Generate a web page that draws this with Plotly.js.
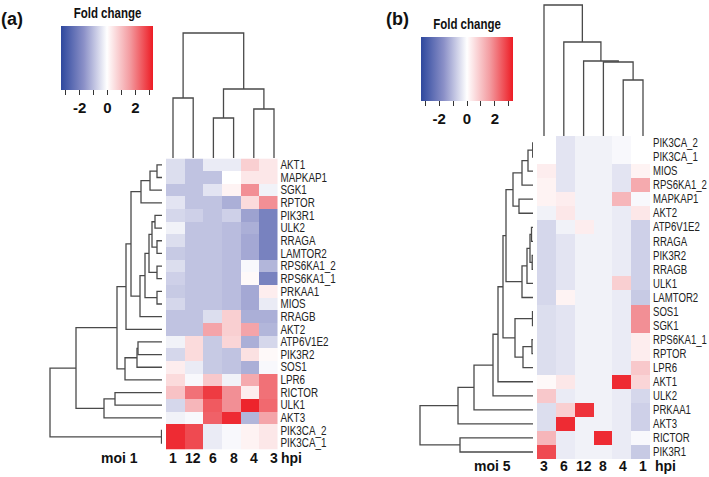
<!DOCTYPE html>
<html><head><meta charset="utf-8">
<script src="https://cdn.plot.ly/plotly-3.0.1.min.js"></script>
<style>html,body{margin:0;padding:0;background:#fff}</style>
</head><body><div id="chart" style="width:709px;height:477px"></div>
<script>
// ---------- Panel (a): moi 1 ----------
const rowsA = ['AKT1','MAPKAP1','SGK1','RPTOR','PIK3R1','ULK2','RRAGA','LAMTOR2','RPS6KA1_2','RPS6KA1_1','PRKAA1','MIOS','RRAGB','AKT2','ATP6V1E2','PIK3R2','SOS1','LPR6','RICTOR','ULK1','AKT3','PIK3CA_2','PIK3CA_1'];
const colsA = ['1','12','6','8','4','3'];
const foldA = [
 [-0.5,-0.9,-0.3,-0.3, 0.8, 0.4], // AKT1
 [-0.5,-0.9,-0.9, 0.0, 0.4, 0.4], // MAPKAP1
 [-0.9,-0.9,-0.4, 0.2, 1.8,-0.2], // SGK1
 [-0.4,-0.9,-0.9,-1.2, 0.6, 1.8], // RPTOR
 [-0.6,-0.7,-0.9,-0.7,-1.4,-2.0], // PIK3R1
 [-0.2,-0.9,-0.9,-1.0,-1.2,-2.0], // ULK2
 [-0.5,-0.9,-0.9,-1.0,-1.3,-2.0], // RRAGA
 [-0.8,-0.9,-0.9,-1.0,-1.3,-2.0], // LAMTOR2
 [-0.5,-0.9,-0.9,-1.0,-0.1,-1.1], // RPS6KA1_2
 [-0.7,-0.9,-0.9,-1.0, 0.1,-2.0], // RPS6KA1_1
 [-0.8,-0.9,-0.9,-1.0,-1.3, 0.3], // PRKAA1
 [-0.6,-0.9,-0.9,-1.0,-1.3,-0.3], // MIOS
 [-0.9,-0.9,-0.5, 0.8,-1.2,-1.2], // RRAGB
 [-0.9,-0.9, 1.5, 0.8, 1.5,-1.1], // AKT2
 [-0.2, 0.6,-0.8, 0.7,-1.2,-0.6], // ATP6V1E2
 [-0.6, 0.6,-0.8,-0.9, 0.5, 0.1], // PIK3R2
 [ 0.3,-0.3,-0.8,-0.9,-1.2,-0.1], // SOS1
 [ 0.6,-0.1, 0.9,-0.2, 1.4, 2.2], // LPR6
 [ 1.0, 2.2, 2.9, 1.8, 0.3, 2.2], // RICTOR
 [-0.6, 1.2, 2.5, 1.8, 3.2, 2.3], // ULK1
 [-0.2,-0.1, 2.4, 3.1,-1.1, 1.5], // AKT3
 [ 3.1, 2.7,-0.3,-0.1, 0.2, 0.4], // PIK3CA_2
 [ 3.1, 2.7,-0.3,-0.1, 0.2, 0.4]  // PIK3CA_1
];
// linkage: [childA, childB, height]; merges referenced as n<index>
const rowLinkA = [
 ['AKT1','MAPKAP1',5],['n0','SGK1',12],['n1','RPTOR',21],
 ['PIK3R1','ULK2',7],['RRAGA','LAMTOR2',5],['n3','n4',10],
 ['RPS6KA1_2','RPS6KA1_1',5],['n5','n6',13],['PRKAA1','MIOS',5],
 ['n7','n8',17],['n9','RRAGB',22],['n2','n10',31],['n11','AKT2',36],
 ['ATP6V1E2','PIK3R2',24],['n13','SOS1',25],['n14','LPR6',37],
 ['n12','n15',45],['RICTOR','ULK1',47],['n17','AKT3',58],
 ['n16','n18',86],['PIK3CA_2','PIK3CA_1',0.5],['n19','n20',112]
];
const colLinkA = [['1','12',60],['6','8',40],['4','3',49],['n1','n2',69],['n0','n3',125]];

// ---------- Panel (b): moi 5 ----------
const rowsB = ['PIK3CA_2','PIK3CA_1','MIOS','RPS6KA1_2','MAPKAP1','AKT2','ATP6V1E2','RRAGA','PIK3R2','RRAGB','ULK1','LAMTOR2','SOS1','SGK1','RPS6KA1_1','RPTOR','LPR6','AKT1','ULK2','PRKAA1','AKT3','RICTOR','PIK3R1'];
const colsB = ['3','6','12','8','4','1'];
const foldB = [
 [ 0.0,-0.4,-0.2,-0.2,-0.1, 0.0], // PIK3CA_2
 [ 0.0,-0.4,-0.2,-0.2,-0.1, 0.0], // PIK3CA_1
 [ 0.3,-0.4,-0.2,-0.2,-0.4, 0.2], // MIOS
 [ 0.2,-0.4,-0.2,-0.2,-0.4, 1.4], // RPS6KA1_2
 [ 0.2, 0.3,-0.2,-0.2, 1.2,-0.1], // MAPKAP1
 [-0.2, 0.4,-0.2,-0.2,-0.3, 0.4], // AKT2
 [-0.6,-0.2, 0.3,-0.2,-0.3,-0.7], // ATP6V1E2
 [-0.6,-0.4,-0.2,-0.2,-0.3,-0.7], // RRAGA
 [-0.6,-0.4,-0.2,-0.2,-0.3,-0.7], // PIK3R2
 [-0.6,-0.4,-0.2,-0.2,-0.3,-0.7], // RRAGB
 [-0.6,-0.4,-0.2,-0.2, 0.8,-0.7], // ULK1
 [-0.6, 0.2,-0.2,-0.2,-0.3,-0.8], // LAMTOR2
 [-0.5,-0.4,-0.2,-0.2,-0.3, 1.8], // SOS1
 [-0.5,-0.4,-0.2,-0.2,-0.3, 1.8], // SGK1
 [-0.5,-0.4,-0.2,-0.2,-0.3, 0.3], // RPS6KA1_1
 [-0.5,-0.4,-0.2,-0.2,-0.3, 0.3], // RPTOR
 [-0.5,-0.4,-0.2,-0.2,-0.3, 0.9], // LPR6
 [ 0.1, 0.4,-0.2,-0.2, 3.1, 0.7], // AKT1
 [ 0.9,-0.3,-0.2,-0.2,-0.3,-0.6], // ULK2
 [-0.5, 0.8, 3.0,-0.2,-0.3,-0.7], // PRKAA1
 [-0.5, 3.1,-0.2,-0.2,-0.3,-0.7], // AKT3
 [ 1.2,-0.3,-0.2, 3.1,-0.3,-0.1], // RICTOR
 [ 2.7,-0.3,-0.2,-0.2,-0.3,-0.8]  // PIK3R1
];
const rowLinkB = [
 ['PIK3CA_2','PIK3CA_1',0.3],['n0','MIOS',5],['n1','RPS6KA1_2',11],
 ['MAPKAP1','AKT2',14],['n2','n3',20],['ATP6V1E2','RRAGA',1.5],
 ['PIK3R2','RRAGB',0.8],['n5','n6',3],['n7','ULK1',6],['n8','LAMTOR2',11],
 ['n4','n9',27],['SOS1','SGK1',0.5],['RPS6KA1_1','RPTOR',1],['n12','LPR6',10],
 ['n11','n13',18],['n10','n14',30],['n15','AKT1',35],['n16','ULK2',40],
 ['n17','PRKAA1',59],['n18','AKT3',75],['RICTOR','PIK3R1',73],['n19','n20',113]
];
const colLinkB = [['4','1',56],['8','n0',74],['12','n1',75],['6','n2',94],['3','n3',131]];

const colorScale = [[0,'rgb(46,72,158)'],[0.25,'rgb(140,145,200)'],[0.5,'rgb(255,255,255)'],[0.75,'rgb(243,155,160)'],[1,'rgb(237,28,36)']];
const zLo = -3.3, zHi = 3.3;

// ---------- helpers ----------
const W = 709, H = 477;
const px = v => v / W, py = v => 1 - v / H;
function dendro(leaves, links){
  const pos = {}, ht = {}, P = [], Hs = [];
  leaves.forEach((l,i) => { pos[l] = i; ht[l] = 0; });
  links.forEach((lk,i) => {
    const [a,b,h] = lk, id = 'n' + i;
    pos[id] = (pos[a] + pos[b]) / 2; ht[id] = h;
    P.push(pos[a], pos[a], pos[b], pos[b], null);
    Hs.push(ht[a], h, h, ht[b], null);
  });
  return {p: P, h: Hs};
}
const idx = arr => arr.map((_, i) => i);
const lineStyle = {color: '#4a4a4a', width: 1.3};
const SANS = '"Liberation Sans", Arial, sans-serif';

function colorbarCfg(cx, boxBottom){
  return {
    orientation: 'h', x: px(cx), xanchor: 'center', y: py(boxBottom), yanchor: 'bottom',
    len: 92, lenmode: 'pixels', thickness: 64, thicknessmode: 'pixels',
    xpad: 0, ypad: 0, outlinewidth: 0,
    tickmode: 'array', tickvals: [-3,-2,-1,0,1,2,3], ticktext: ['','-2','','0','','2',''],
    ticks: 'outside', ticklen: 5, tickwidth: 1, tickcolor: '#333',
    tickfont: {family: SANS, size: 15, color: '#111', weight: 'bold'},
    title: {text: 'Fold change', side: 'top', font: {family: SANS, size: 14, color: '#111', weight: 'bold'}}
  };
}

const dRA = dendro(rowsA, rowLinkA), dCA = dendro(colsA, colLinkA);
const dRB = dendro(rowsB, rowLinkB), dCB = dendro(colsB, colLinkB);

const traces = [
  {type:'heatmap', x: idx(colsA), y: idx(rowsA), z: foldA, xaxis:'x', yaxis:'y',
   colorscale: colorScale, zmin: zLo, zmax: zHi, colorbar: colorbarCfg(107.5, 116), hoverinfo:'skip'},
  {type:'scatter', mode:'lines', x: dCA.p, y: dCA.h, xaxis:'x2', yaxis:'y2', line: lineStyle, hoverinfo:'skip', showlegend:false},
  {type:'scatter', mode:'lines', x: dRA.h, y: dRA.p, xaxis:'x3', yaxis:'y3', line: lineStyle, hoverinfo:'skip', showlegend:false},
  {type:'heatmap', x: idx(colsB), y: idx(rowsB), z: foldB, xaxis:'x4', yaxis:'y4',
   colorscale: colorScale, zmin: zLo, zmax: zHi, colorbar: colorbarCfg(467, 127), hoverinfo:'skip'},
  {type:'scatter', mode:'lines', x: dCB.p, y: dCB.h, xaxis:'x5', yaxis:'y5', line: lineStyle, hoverinfo:'skip', showlegend:false},
  {type:'scatter', mode:'lines', x: dRB.h, y: dRB.p, xaxis:'x6', yaxis:'y6', line: lineStyle, hoverinfo:'skip', showlegend:false}
];

const hidden = {visible:false, showgrid:false, zeroline:false, fixedrange:true};
const rowAxis = (dom, names) => ({domain: dom, range:[names.length-0.5,-0.5], side:'right',
  tickmode:'array', tickvals: idx(names), ticktext: names, ticks:'', showline:false, showgrid:false, zeroline:false,
  ticklabelstandoff: 2, tickfont:{family: SANS, size: 12, color:'#222'}});

const domYA = [py(449.5), py(158.5)], domYB = [py(459), py(136)];
const layout = {
  width: W, height: H, margin:{l:0,r:0,t:0,b:0,autoexpand:false}, paper_bgcolor:'#fff', plot_bgcolor:'rgba(0,0,0,0)', showlegend:false,
  xaxis: Object.assign({}, hidden, {domain:[px(166), px(277.5)], range:[-0.5,5.5], anchor:'y'}),
  yaxis: Object.assign(rowAxis(domYA, rowsA), {anchor:'x'}),
  xaxis2: Object.assign({}, hidden, {domain:[px(162.9), px(284.1)], range:[-0.5,5.5], anchor:'y2'}),
  yaxis2: Object.assign({}, hidden, {domain:[py(158), py(20)], range:[0,138], anchor:'x2'}),
  xaxis3: Object.assign({}, hidden, {domain:[px(40), px(162)], range:[122,0], anchor:'y3'}),
  yaxis3: Object.assign({}, hidden, {domain: domYA, range:[rowsA.length-0.5,-0.5], anchor:'x3'}),
  xaxis4: Object.assign({}, hidden, {domain:[px(537), px(650)], range:[-0.5,5.5], anchor:'y4'}),
  yaxis4: Object.assign(rowAxis(domYB, rowsB), {anchor:'x4'}),
  xaxis5: Object.assign({}, hidden, {domain:[px(534.1), px(652.9)], range:[-0.5,5.5], anchor:'y5'}),
  yaxis5: Object.assign({}, hidden, {domain:[py(136), py(0)], range:[0,136], anchor:'x5'}),
  xaxis6: Object.assign({}, hidden, {domain:[px(405), px(533)], range:[128,0], anchor:'y6'}),
  yaxis6: Object.assign({}, hidden, {domain: domYB, range:[rowsB.length-0.5,-0.5], anchor:'x6'}),
  annotations: []
};
const labFont = {family: SANS, size: 14, color:'#111', weight:'bold'};
const ann = (o) => Object.assign({showarrow:false, xanchor:'center', yanchor:'middle', yref:'paper'}, o);
colsA.forEach((c,i) => layout.annotations.push(ann({x:i, xref:'x2', y:py(458), text:c, font:labFont})));
colsB.forEach((c,i) => layout.annotations.push(ann({x:i, xref:'x5', y:py(466), text:c, font:labFont})));
layout.annotations.push(
  ann({x:px(291), y:py(458), xref:'paper', text:'hpi', font:labFont}),
  ann({x:px(120), y:py(458), xref:'paper', text:'moi 1', font:labFont}),
  ann({x:px(665), y:py(466), xref:'paper', text:'hpi', font:labFont}),
  ann({x:px(492), y:py(466), xref:'paper', text:'moi 5', font:labFont}),
  ann({x:px(12), y:py(19), xref:'paper', text:'(a)', font:{family:SANS, size:18, color:'#111', weight:'bold'}}),
  ann({x:px(397), y:py(19), xref:'paper', text:'(b)', font:{family:SANS, size:18, color:'#111', weight:'bold'}})
);
Plotly.newPlot('chart', traces, layout, {staticPlot:true, displayModeBar:false}).then(gd => {
  // the original uses a narrow (condensed) face; compress the label glyphs horizontally
  const squeeze = (sel, f) => gd.querySelectorAll(sel).forEach(t => {
    const w = t.getComputedTextLength();
    if (w > 0) { t.setAttribute('textLength', (w * f).toFixed(1)); t.setAttribute('lengthAdjust', 'spacingAndGlyphs'); }
  });
  squeeze('.ytick text', 0.82);
  squeeze('.y4tick text', 0.8);
  squeeze('.cbtitle text', 0.82);
});
</script></body></html>
